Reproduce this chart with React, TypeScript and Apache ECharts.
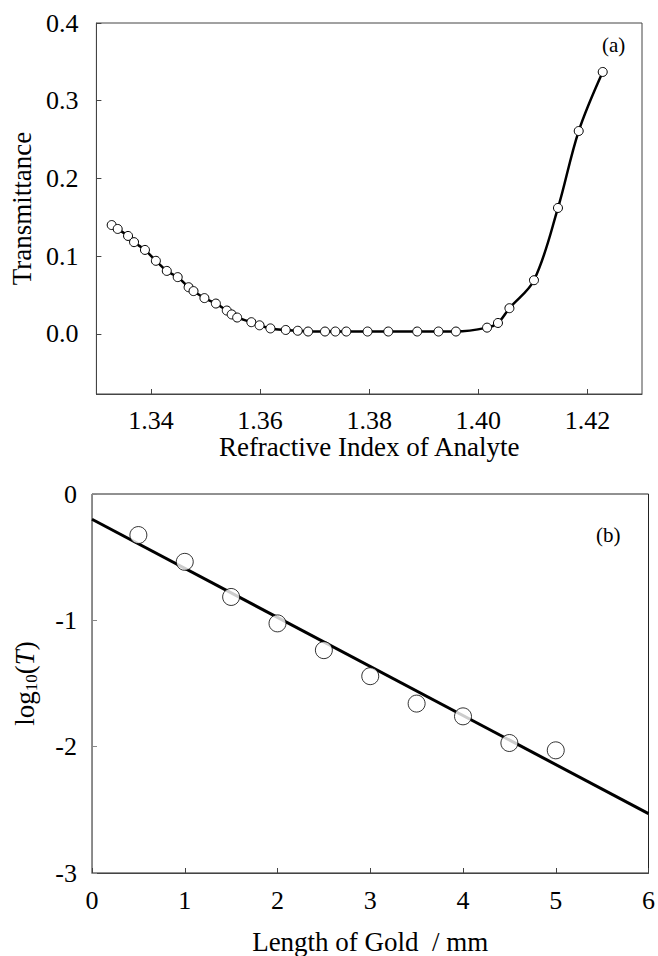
import React, { useEffect, useRef } from "react";
import * as echarts from "echarts";

// Panel (a): transmittance vs refractive index of analyte
const riValues: number[] = [
  1.3328, 1.3339, 1.3358, 1.3369, 1.3389, 1.3409, 1.3429, 1.3449, 1.3469, 1.3478,
  1.3498, 1.3519, 1.3539, 1.3548, 1.3558, 1.3584, 1.3599, 1.3619, 1.3647, 1.3669,
  1.3688, 1.3719, 1.3738, 1.3758, 1.3797, 1.3835, 1.3888, 1.3927, 1.3959, 1.4016,
  1.4036, 1.4057, 1.4102, 1.4146, 1.4184, 1.4228,
];
const transmittance: number[] = [
  0.140, 0.135, 0.126, 0.118, 0.108, 0.094, 0.081, 0.073, 0.060, 0.055,
  0.046, 0.039, 0.030, 0.025, 0.021, 0.015, 0.011, 0.007, 0.005, 0.004,
  0.003, 0.003, 0.003, 0.003, 0.003, 0.003, 0.003, 0.003, 0.003, 0.008,
  0.014, 0.033, 0.069, 0.162, 0.261, 0.337,
];

// Panel (b): log10(T) vs length of gold
const goldLength: number[] = [0.5, 1.0, 1.5, 2.0, 2.5, 3.0, 3.5, 4.0, 4.5, 5.0];
const logT: number[] = [-0.325, -0.537, -0.815, -1.024, -1.236, -1.442, -1.659, -1.76, -1.971, -2.029];
const fitX: number[] = [0, 6];
const fitY: number[] = [-0.2, -2.53];

const FONT = "Liberation Serif";

export default function App() {
  const ref = useRef<HTMLDivElement>(null);
  useEffect(() => {
    document.body.style.margin = "0";
    if (!ref.current) return;
    const chart = echarts.init(ref.current, null, { renderer: "svg" });
    const richT = { t: { fontFamily: FONT, fontSize: 26, color: "#000" } };
    const tickLabel = { color: "#000", fontFamily: FONT, fontSize: 26, rich: richT };
    const nameStyle = { color: "#000", fontFamily: FONT, fontSize: 27 };
    chart.setOption({
      animation: false,
      backgroundColor: "#fff",
      textStyle: { fontFamily: FONT },
      grid: [
        { left: 92, top: 23, width: 550, height: 371, show: true, borderColor: "#444", borderWidth: 1, backgroundColor: "transparent" },
        { left: 92, top: 494, width: 558, height: 379, show: true, borderColor: "#222", borderWidth: 1, backgroundColor: "transparent" },
      ],
      xAxis: [
        {
          type: "value", gridIndex: 0, min: 1.33, max: 1.43, splitNumber: 5,
          axisLine: { show: true, onZero: false, lineStyle: { color: "#444", width: 1 } },
          axisTick: { show: true, inside: true, length: 5, lineStyle: { color: "#444" } },
          splitLine: { show: false },
          axisLabel: { ...tickLabel, margin: 13, showMinLabel: false, showMaxLabel: false, formatter: (v: number) => `{t|${v.toFixed(2)}}` },
          name: "Refractive Index of Analyte", nameLocation: "middle", nameGap: 39, nameTextStyle: nameStyle,
        },
        {
          type: "value", gridIndex: 1, min: 0, max: 6, interval: 1,
          axisLine: { show: true, onZero: false, lineStyle: { color: "#444", width: 1 } },
          axisTick: { show: true, inside: true, length: 5, lineStyle: { color: "#444" } },
          splitLine: { show: false },
          axisLabel: { ...tickLabel, margin: 14, formatter: (v: number) => `{t|${v}}` },
          name: "Length of Gold  / mm", nameLocation: "middle", nameGap: 55, nameTextStyle: nameStyle,
        },
      ],
      yAxis: [
        {
          type: "value", gridIndex: 0, min: -0.0774, max: 0.4, splitNumber: 5,
          axisLine: { show: true, onZero: false, lineStyle: { color: "#444", width: 1 } },
          axisTick: { show: true, inside: true, length: 5, lineStyle: { color: "#444" } },
          splitLine: { show: false },
          axisLabel: { ...tickLabel, margin: 18, showMinLabel: false, formatter: (v: number) => `{t|${v.toFixed(1)}}` },
          name: "Transmittance", nameLocation: "middle", nameGap: 57, nameRotate: 90, nameTextStyle: nameStyle,
        },
        {
          type: "value", gridIndex: 1, min: -3, max: 0, interval: 1,
          axisLine: { show: true, onZero: false, lineStyle: { color: "#888", width: 1 } },
          axisTick: { show: true, inside: true, length: 5, lineStyle: { color: "#888" } },
          splitLine: { show: false },
          axisLabel: { ...tickLabel, margin: 15, formatter: (v: number) => `{t|${v}}` },
          name: "{a|log}{s|10}{a|(}{i|T}{a|)}", nameLocation: "middle", nameGap: 52, nameRotate: 90,
          nameTextStyle: {
            ...nameStyle,
            rich: {
              a: { fontFamily: FONT, fontSize: 27, color: "#000", lineHeight: 30 },
              i: { fontFamily: FONT, fontSize: 27, color: "#000", fontStyle: "italic", lineHeight: 30 },
              s: { fontFamily: FONT, fontSize: 17, color: "#000", lineHeight: 16, verticalAlign: "bottom" },
            },
          },
        },
      ],
      graphic: [
        { type: "text", left: 602, top: 34, style: { text: "(a)", font: `21px ${FONT}`, fill: "#000" } },
        { type: "text", left: 596, top: 524, style: { text: "(b)", font: `21px ${FONT}`, fill: "#000" } },
      ],
      series: [
        {
          type: "line", xAxisIndex: 0, yAxisIndex: 0,
          data: riValues.map((x, i) => [x, transmittance[i]]),
          smooth: 0.35,
          symbol: "circle", symbolSize: 9, showAllSymbol: true,
          lineStyle: { color: "#000", width: 2.5 },
          itemStyle: { color: "#fff", borderColor: "#000", borderWidth: 1 },
          z: 3,
        },
        {
          type: "line", xAxisIndex: 1, yAxisIndex: 1,
          data: fitX.map((x, i) => [x, fitY[i]]),
          symbol: "none",
          lineStyle: { color: "#000", width: 3 },
          z: 2,
        },
        {
          type: "scatter", xAxisIndex: 1, yAxisIndex: 1,
          data: goldLength.map((x, i) => [x, logT[i]]),
          symbol: "circle", symbolSize: 17,
          itemStyle: { color: "#fff", borderColor: "#000", borderWidth: 1 },
          z: 4,
        },
      ],
    });
    return () => chart.dispose();
  }, []);
  return <div ref={ref} style={{ width: 658, height: 956 }} />;
}
